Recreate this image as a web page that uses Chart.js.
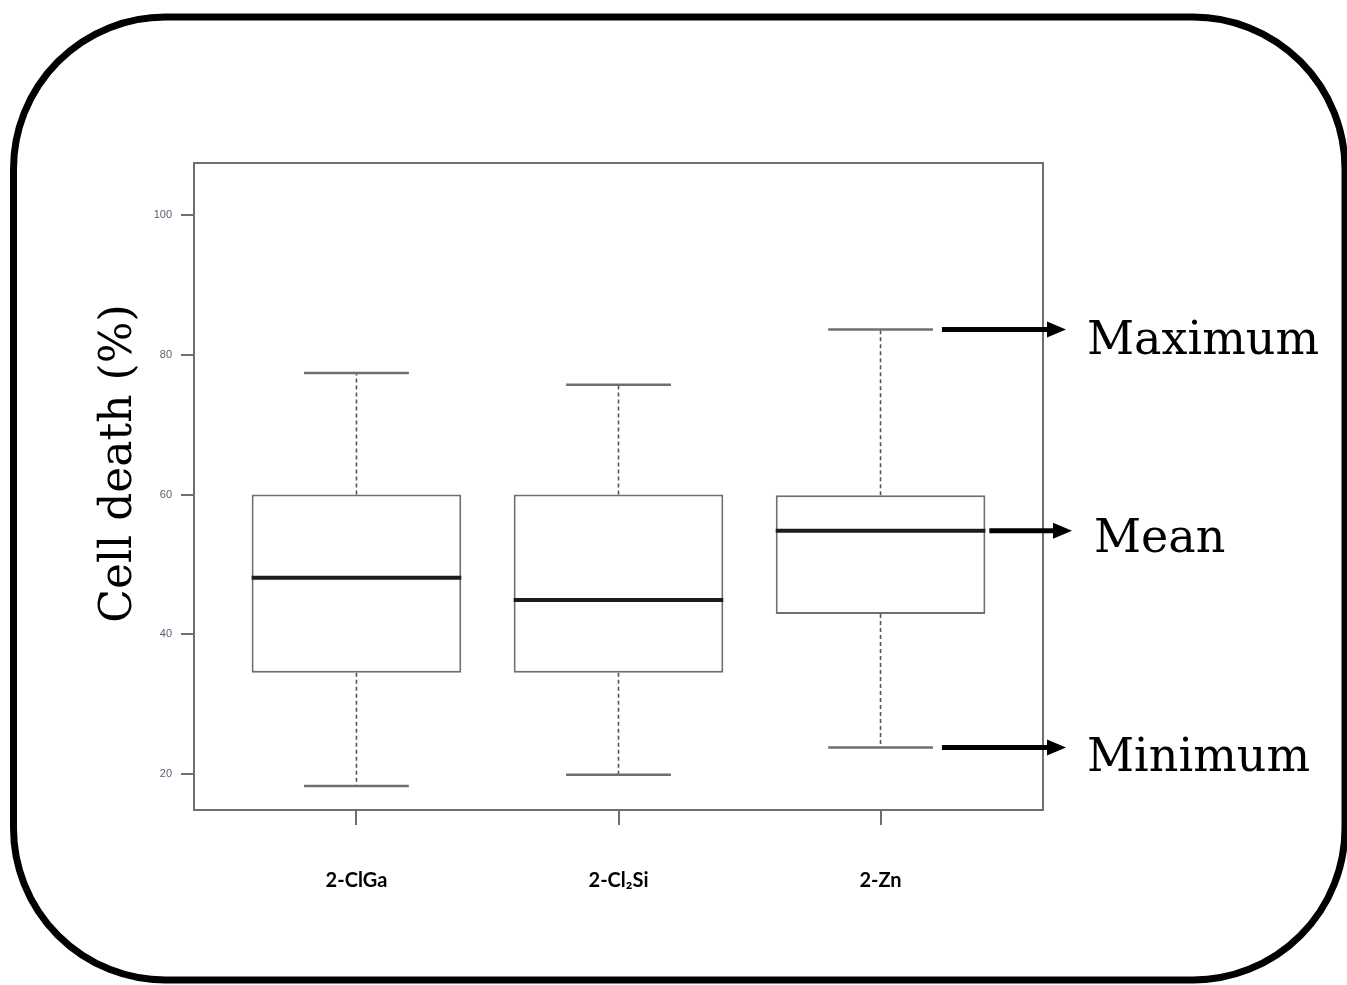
<!DOCTYPE html>
<html>
<head>
<meta charset="utf-8">
<title>Cell death box plot</title>
<script src="https://cdn.jsdelivr.net/npm/chart.js@4.4.1/dist/chart.umd.min.js"></script>
<style>
  html, body { margin: 0; padding: 0; background: #ffffff; }
  #wrap { position: relative; width: 1347px; height: 985px; }
  canvas { display: block; }
</style>
</head>
<body>
<div id="wrap"><canvas id="chart" width="1347" height="985"></canvas></div>
<script>
// Compounds on the x axis
const categories = ['2-ClGa', '2-Cl\u2082Si', '2-Zn'];
const positions = [1, 2, 3];

// Five-number summaries of cell death (%)
const minimum = [18.3, 19.9, 23.8];
const q1      = [34.5, 34.5, 42.9];
const median  = [48.1, 44.9, 54.8];
const q3      = [60.0, 60.0, 59.9];
const maximum = [77.4, 75.7, 83.6];

// Axis ticks
const yTicks = [20, 40, 60, 80, 100];

// Callouts on the last box: label and which statistic it points to
const calloutLabels = ['Maximum', 'Mean', 'Minimum'];
const calloutStats  = [maximum, median, minimum];

const yTitle = 'Cell death (%)';

const GRAY = '#6f6f6f';
const SERIF = '"DejaVu Serif", "Liberation Serif", serif';

const boxData = positions.map((p, i) => ({ x: p, y: [q1[i], q3[i]] }));

// Rounded outer frame around the whole figure
const framePlugin = {
  id: 'frame',
  beforeDraw(chart) {
    const ctx = chart.ctx;
    ctx.save();
    ctx.fillStyle = '#ffffff';
    ctx.fillRect(0, 0, chart.width, chart.height);
    ctx.lineWidth = 7;
    ctx.strokeStyle = '#000000';
    ctx.beginPath();
    ctx.roundRect(13.5, 17, 1331.5, 963, 152);
    ctx.stroke();
    ctx.restore();
  }
};

// Whiskers, caps, medians, the plot box and the callout arrows
const boxPlotPlugin = {
  id: 'boxplotExtras',
  beforeDatasetsDraw(chart) {
    const { ctx, scales: { x, y } } = chart;
    const capHalf = 0.2;
    ctx.save();
    positions.forEach((p, i) => {
      const px = x.getPixelForValue(p);
      // dashed whiskers
      ctx.strokeStyle = '#555555';
      ctx.lineWidth = 1.6;
      ctx.setLineDash([4, 3]);
      ctx.beginPath();
      ctx.moveTo(px, y.getPixelForValue(q3[i]));
      ctx.lineTo(px, y.getPixelForValue(maximum[i]));
      ctx.moveTo(px, y.getPixelForValue(q1[i]));
      ctx.lineTo(px, y.getPixelForValue(minimum[i]));
      ctx.stroke();
      // caps
      ctx.setLineDash([]);
      ctx.strokeStyle = GRAY;
      ctx.lineWidth = 2.5;
      ctx.beginPath();
      const l = x.getPixelForValue(p - capHalf), r = x.getPixelForValue(p + capHalf);
      ctx.moveTo(l, y.getPixelForValue(maximum[i]));
      ctx.lineTo(r, y.getPixelForValue(maximum[i]));
      ctx.moveTo(l, y.getPixelForValue(minimum[i]));
      ctx.lineTo(r, y.getPixelForValue(minimum[i]));
      ctx.stroke();
    });
    ctx.restore();
  },
  afterDatasetsDraw(chart) {
    const { ctx, chartArea: a, scales: { x, y } } = chart;
    ctx.save();
    // medians
    const meta = chart.getDatasetMeta(0);
    ctx.strokeStyle = '#1c1c1c';
    ctx.lineWidth = 4;
    meta.data.forEach((bar, i) => {
      const py = y.getPixelForValue(median[i]);
      ctx.beginPath();
      ctx.moveTo(bar.x - bar.width / 2, py);
      ctx.lineTo(bar.x + bar.width / 2, py);
      ctx.stroke();
    });
    // plot frame
    ctx.strokeStyle = GRAY;
    ctx.lineWidth = 2;
    ctx.strokeRect(a.left, a.top, a.right - a.left, a.bottom - a.top);

    // callout arrows and labels on the last compound
    const last = positions.length - 1;
    const lastBar = meta.data[last];
    const capRight = x.getPixelForValue(positions[last] + 0.2);
    const boxRight = lastBar.x + lastBar.width / 2;
    calloutLabels.forEach((label, k) => {
      const py = y.getPixelForValue(calloutStats[k][last]);
      const isMean = calloutStats[k] === median;
      const x0 = isMean ? boxRight + 4 : capRight + 9;
      const x1 = isMean ? a.right + 29 : a.right + 23;
      ctx.strokeStyle = '#000000';
      ctx.fillStyle = '#000000';
      ctx.lineWidth = 5;
      ctx.beginPath();
      ctx.moveTo(x0, py);
      ctx.lineTo(x1 - 16, py);
      ctx.stroke();
      ctx.beginPath();
      ctx.moveTo(x1, py);
      ctx.lineTo(x1 - 19, py - 8);
      ctx.lineTo(x1 - 19, py + 8);
      ctx.closePath();
      ctx.fill();
      ctx.font = '46px ' + SERIF;
      ctx.textAlign = 'left';
      ctx.textBaseline = 'alphabetic';
      ctx.fillText(label, x1 + (isMean ? 22 : 21), py + (isMean ? 21 : 24));
    });

    // y axis title
    ctx.save();
    ctx.translate(131, (a.top + a.bottom) / 2 - 23);
    ctx.rotate(-Math.PI / 2);
    ctx.font = '44px ' + SERIF;
    ctx.textAlign = 'center';
    ctx.textBaseline = 'alphabetic';
    ctx.fillText(yTitle, 0, 0);
    ctx.restore();
    ctx.restore();
  }
};

new Chart(document.getElementById('chart'), {
  type: 'bar',
  data: {
    datasets: [{
      data: boxData,
      backgroundColor: '#ffffff',
      borderColor: GRAY,
      borderWidth: 2,
      borderSkipped: false,
      barPercentage: 0.8,
      categoryPercentage: 1.0
    }]
  },
  options: {
    responsive: false,
    animation: false,
    events: [],
    layout: { padding: { top: 163, right: 304, left: 0, bottom: 0 } },
    plugins: { legend: { display: false }, tooltip: { enabled: false } },
    scales: {
      x: {
        type: 'linear',
        min: 0.38,
        max: 3.62,
        offset: false,
        afterFit(s) { s.height = 175; },
        afterBuildTicks(s) { s.ticks = positions.map(v => ({ value: v })); },
        ticks: {
          autoSkip: false,
          maxRotation: 0,
          padding: 44,
          color: '#000000',
          font: { family: 'Lato, "Liberation Sans", sans-serif', size: 20, weight: 'bold' },
          callback: (v) => categories[positions.indexOf(v)]
        },
        grid: { offset: false, drawOnChartArea: false, drawTicks: true, tickLength: 15, color: GRAY, lineWidth: 2 },
        border: { display: false }
      },
      y: {
        type: 'linear',
        min: 14.85,
        max: 107.44,
        afterFit(s) { s.width = 194; },
        afterBuildTicks(s) { s.ticks = yTicks.map(v => ({ value: v })); },
        ticks: {
          padding: 9,
          color: '#5a5f70',
          font: { family: '"Liberation Sans", Arial, sans-serif', size: 11 }
        },
        grid: { drawOnChartArea: false, drawTicks: true, tickLength: 13, color: GRAY, lineWidth: 2 },
        border: { display: false }
      }
    }
  },
  plugins: [framePlugin, boxPlotPlugin]
});
</script>
</body>
</html>
